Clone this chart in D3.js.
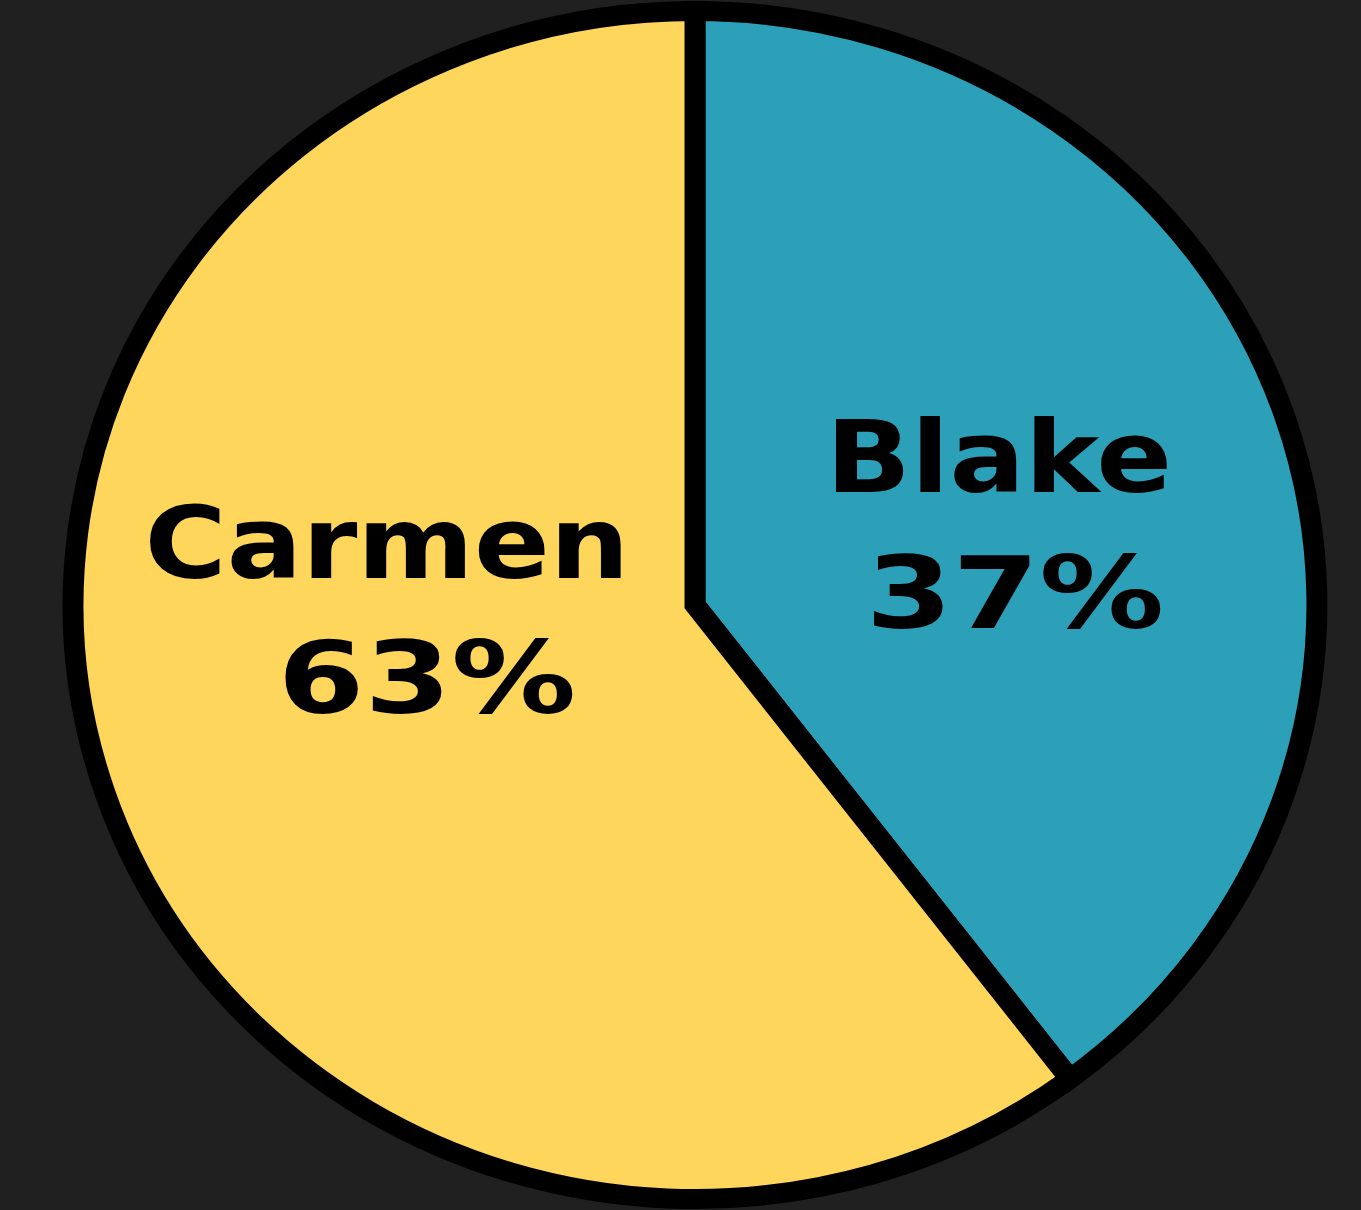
<!DOCTYPE html>
<html>
<head>
<meta charset="utf-8">
<script src="https://cdn.jsdelivr.net/npm/d3@7"></script>
<style>
  html, body { margin: 0; padding: 0; background: #202020; }
  svg { display: block; }
</style>
</head>
<body>
<script>
// Data
var names = ["Blake", "Carmen"];
var shares = [39.7, 60.3];          // slice sweep as drawn
var labels = ["37%", "63%"];        // percentages as printed
var colors = ["#2ba0b8", "#fed65b"];

// Canvas
var width = 1361,
    height = 1210,
    cx = 695,
    cy = 605,
    radius = 594,
    stretchX = 1.047;

var svg = d3.select("body")
    .append("svg")
        .attr("width", width)
        .attr("height", height);

svg.append("rect")
    .attr("width", width)
    .attr("height", height)
    .attr("fill", "#202020");

var data = names.map(function(n, i) {
    return {name: n, value: shares[i], label: labels[i], color: colors[i]};
});

var pie = d3.pie()
    .sort(null)
    .value(function(d) { return d.value; });

var arc = d3.arc()
    .innerRadius(0)
    .outerRadius(radius);

// Pie is slightly wider than tall in the reference
var g = svg.append("g")
    .attr("transform", "translate(" + cx + "," + cy + ") scale(" + stretchX + ",1)");

g.selectAll("path")
    .data(pie(data))
  .enter().append("path")
    .attr("d", arc)
    .attr("fill", function(d) { return d.data.color; })
    .attr("stroke", "#000")
    .attr("stroke-width", 20)
    .attr("stroke-linejoin", "miter");

// Label placement (centre of each line, baseline)
var labelPos = {
    Blake:  {x: 999, y: 492, x2: 1015, y2: 628},
    Carmen: {x: 387, y: 578, x2: 427, y2: 713}
};

data.forEach(function(d) {
    var p = labelPos[d.name];
    [[d.name, p.x, p.y, 1.13], [d.label, p.x2, p.y2, 1.26]].forEach(function(t) {
        svg.append("text")
            .attr("transform", "translate(" + t[1] + "," + t[2] + ") scale(" + t[3] + ",1)")
            .attr("text-anchor", "middle")
            .attr("font-family", "DejaVu Sans")
            .attr("font-weight", "bold")
            .attr("font-size", 99)
            .attr("fill", "#000")
            .text(t[0]);
    });
});
</script>
</body>
</html>
